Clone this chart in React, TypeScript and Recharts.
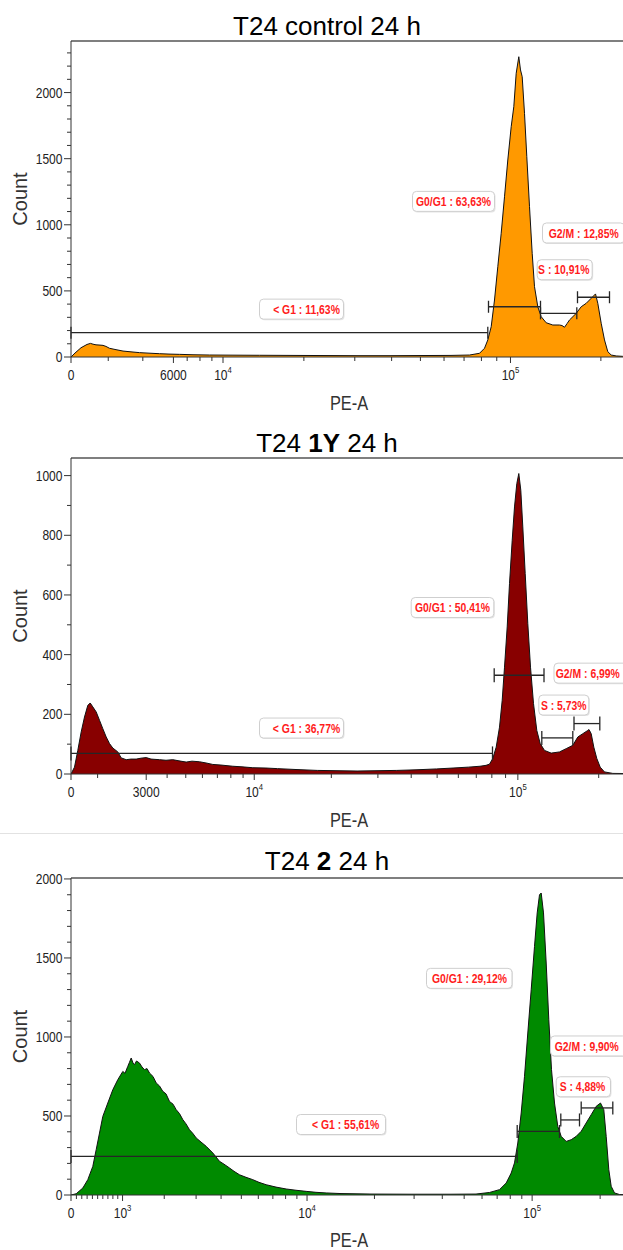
import React from 'react';
import { AreaChart, Area, XAxis, YAxis, ReferenceLine, ReferenceDot } from 'recharts';

// ---------------- data ----------------
// histogram outlines: [display channel, count]
const controlHist: [number, number][] = [
  [0, 0], [4, 30], [10, 70], [16, 95], [19.5, 103], [22, 97], [25, 92], [29, 90], [32, 88], [35, 80],
  [38.5, 66], [44, 57], [52, 45], [60, 39], [68.5, 33], [78, 29], [88.5, 25], [98, 22], [108.5, 20],
  [122, 17], [138.5, 15], [160, 14], [188.5, 13], [220, 12], [250, 11], [285, 10], [320, 10], [350, 11],
  [380, 12], [398.5, 15], [408.5, 28], [413.5, 66], [416.8, 129], [420.2, 229], [423.5, 431], [426.8, 683],
  [430.2, 936], [433.5, 1212], [436.8, 1490], [440.2, 1742], [442.8, 1893], [445.2, 2146], [447.8, 2271],
  [449.5, 2171], [451.2, 2120], [453.5, 1843], [455.8, 1515], [458.5, 1137], [461.2, 784], [463.5, 532],
  [466.8, 380], [470.2, 305], [475.2, 259], [481.8, 242], [488.5, 242], [491, 238], [493.5, 225], [496, 252],
  [498.5, 280], [505.2, 330], [510.2, 380], [515.2, 406], [520.2, 444], [524.5, 477], [526.8, 406],
  [530.2, 255], [533.5, 129], [536.8, 40], [540.2, 15], [545.2, 8], [551.5, 5], [569, 3],
];

const oneYHist: [number, number][] = [
  [0, 0], [3.5, 23], [6.8, 79], [10.2, 141], [13.5, 191], [16.8, 230], [19.2, 238], [21.8, 225], [25.2, 208],
  [28.5, 180], [31.8, 152], [35.2, 124], [38.5, 102], [41.8, 87], [46.8, 74], [50.2, 54], [55.2, 48], [60, 50],
  [65.2, 50], [70, 53], [75.2, 55], [80, 50], [88.5, 48], [95, 46], [101.8, 48], [108, 44], [115.2, 40],
  [121, 43], [128.5, 41], [135, 37], [141.8, 32], [150, 30], [161.8, 26], [171, 24], [181.8, 21], [195, 20],
  [206.5, 18], [225, 15], [246.3, 12], [266, 11], [286.1, 10], [306, 11], [325.8, 12], [345, 14], [365.5, 17],
  [382, 20], [397.3, 23], [409, 26], [415, 29], [418.5, 33], [421.8, 52], [425.2, 90], [428.5, 157],
  [431.2, 247], [433.5, 358], [436.2, 493], [438.5, 638], [441.2, 783], [443.5, 895], [445.8, 973],
  [447.8, 1007], [449.8, 951], [451.8, 828], [454.2, 672], [456.8, 504], [459.5, 358], [462.5, 236],
  [465.8, 146], [469.2, 102], [473.5, 79], [480.2, 70], [488.5, 74], [495.2, 85], [501.8, 96], [506.8, 124],
  [511.8, 135], [516.8, 146], [518, 149], [520.2, 135], [522.8, 90], [525.8, 52], [529.2, 23], [533.5, 7],
  [541.8, 2], [569, 1],
];

const twoHist: [number, number][] = [
  [0, 0], [5.2, 8], [11.8, 44], [16.8, 97], [21.8, 181], [25.2, 287], [28.5, 392], [31.8, 497], [36.8, 582],
  [41.8, 666], [46.8, 730], [51.8, 782], [54, 770], [56.8, 814], [58.5, 840], [60.2, 867], [62, 835],
  [63.5, 825], [65.5, 848], [68.5, 835], [71, 810], [73.5, 793], [76, 800], [78.5, 772], [82, 750],
  [85.2, 709], [88.5, 690], [91.8, 656], [95, 640], [98.5, 592], [102, 575], [105.2, 540], [108.5, 515],
  [111.8, 477], [115, 450], [118.5, 413], [121.8, 390], [125.2, 361], [130, 335], [135.2, 308], [141.8, 266],
  [148.5, 213], [153, 195], [158.5, 171], [163, 150], [168.5, 128], [175, 112], [181.8, 97], [188, 80],
  [195.2, 65], [205, 50], [215.2, 38], [225, 30], [235.2, 23], [245, 17], [255.2, 13], [270, 9], [300, 6],
  [340, 5], [380, 5], [405, 6], [418.5, 16], [428.5, 34], [435.2, 76], [440.2, 139], [443.5, 203],
  [446.8, 329], [450.2, 519], [453.5, 751], [456.8, 1025], [460.2, 1299], [463.5, 1573], [466.2, 1785],
  [468.5, 1900], [470.2, 1911], [472.5, 1785], [475.2, 1468], [477.8, 1109], [480.5, 793], [483.5, 582],
  [486.8, 434], [490.2, 371], [495.2, 339], [500.2, 350], [505.2, 371], [510.2, 403], [515.2, 456],
  [520.2, 508], [525.2, 561], [529.5, 582], [532.8, 540], [535.2, 371], [537.8, 160], [540.2, 55],
  [543.5, 13], [548.5, 3], [569, 1],
];

// x axis ticks (PE-A values) and labels
const controlXTicks = [0, 6000, 10000, 100000];
const controlXLabels = ['0', '6000', '10^4', '10^5'];
const controlXMinor = [2000, 4000, 7000, 8000, 9000, 20000, 30000, 40000, 50000, 60000, 70000, 80000, 90000, 200000];

const oneYXTicks = [0, 3000, 10000, 100000];
const oneYXLabels = ['0', '3000', '10^4', '10^5'];
const oneYXMinor = [1000, 4000, 5000, 6000, 7000, 8000, 9000, 20000, 30000, 40000, 50000, 60000, 70000, 80000, 90000, 200000];

const twoXTicks = [0, 1000, 10000, 100000];
const twoXLabels = ['0', '10^3', '10^4', '10^5'];
const twoXMinor = [100, 200, 300, 400, 500, 600, 700, 800, 900, 2000, 3000, 4000, 5000, 6000, 7000, 8000, 9000,
  20000, 30000, 40000, 50000, 60000, 70000, 80000, 90000, 200000];

// gates: [from channel, to channel, level count]
const controlGates: [number, number, number][] = [[0, 416.8, 184], [417.5, 469.5, 380], [469.5, 505.8, 330], [506.5, 538.5, 452]];
const oneYGates: [number, number, number][] = [[0, 421.5, 69], [423.2, 473, 331], [470.8, 501.8, 121], [503, 528.8, 169]];
const twoGates: [number, number, number][] = [[0, 446.2, 244], [446.2, 488.5, 402], [489.8, 508.5, 475], [510.2, 541.8, 551]];

const controlGateText = ['< G1 : 11,63%', 'G0/G1 : 63,63%', 'S : 10,91%', 'G2/M : 12,85%'];
const oneYGateText = ['< G1 : 36,77%', 'G0/G1 : 50,41%', 'S : 5,73%', 'G2/M : 6,99%'];
const twoGateText = ['< G1 : 55,61%', 'G0/G1 : 29,12%', 'S : 4,88%', 'G2/M : 9,90%'];

// ---------------- layout / style ----------------
const FONT = "'Liberation Sans', Arial, Helvetica, sans-serif";
const W = 640;
const YW = 71;
const PLOT_W = W - YW;

type LabelPos = { x: number; y: number; w: number; t: number };

const panels = [
  {
    title: [['T24 control 24 h', false]] as [string, boolean][],
    hist: controlHist, xTicks: controlXTicks, xLabels: controlXLabels, xMinor: controlXMinor,
    gates: controlGates, gateText: controlGateText,
    labelPos: [
      { x: 188.5, y: 362, w: 84, t: 47 }, { x: 341.5, y: 1177, w: 82, t: 41 },
      { x: 466.2, y: 660, w: 55, t: 26.6 }, { x: 471.5, y: 938, w: 82, t: 41.2 },
    ] as LabelPos[],
    top: 0, marginTop: 41, plotH: 316, chartH: 420, yMax: 2390, yMajor: 500,
    K: 130.6, C: 6920, fill: '#ff9900', gateH: 6, titleY: 35, peaY: 410,
  },
  {
    title: [['T24 ', false], ['1Y', true], [' 24 h', false]] as [string, boolean][],
    hist: oneYHist, xTicks: oneYXTicks, xLabels: oneYXLabels, xMinor: oneYXMinor,
    gates: oneYGates, gateText: oneYGateText,
    labelPos: [
      { x: 188.5, y: 154, w: 84, t: 47 }, { x: 340.2, y: 558, w: 82.6, t: 41.3 },
      { x: 467.8, y: 231, w: 50, t: 24.9 }, { x: 483, y: 338, w: 74, t: 33.8 },
    ] as LabelPos[],
    top: 420, marginTop: 38, plotH: 316, chartH: 414, yMax: 1059, yMajor: 200,
    K: 116.7, C: 4348, fill: '#880000', gateH: 7, titleY: 32, peaY: 407,
  },
  {
    title: [['T24 ', false], ['2', true], [' 24 h', false]] as [string, boolean][],
    hist: twoHist, xTicks: twoXTicks, xLabels: twoXLabels, xMinor: twoXMinor,
    gates: twoGates, gateText: twoGateText,
    labelPos: [
      { x: 225.5, y: 446, w: 89, t: 49.2 }, { x: 355.5, y: 1371, w: 85.5, t: 43 },
      { x: 485.2, y: 685, w: 54.3, t: 26.3 }, { x: 479.5, y: 943, w: 76, t: 36.3 },
    ] as LabelPos[],
    top: 834, marginTop: 44, plotH: 317, chartH: 416, yMax: 2006, yMajor: 500,
    K: 98.1, C: 1818, fill: '#008a00', gateH: 6.5, titleY: 36, peaY: 413,
  },
];

type Panel = typeof panels[number];

function TickText({ x, y, label, anchor }: { x: number; y: number; label: string; anchor: 'middle' | 'end' }) {
  const [base, exp] = label.split('^');
  return (
    <text transform={`translate(${x},${y}) scale(0.86,1)`} textAnchor={anchor} fontFamily={FONT} fontSize={14} fill="#222">
      <tspan>{base}</tspan>
      {exp && <tspan fontSize={9} dy={-7}>{exp}</tspan>}
    </text>
  );
}

function Histogram({ cfg }: { cfg: Panel }) {
  const toCh = (v: number) => cfg.K * Math.asinh(v / cfg.C);
  const majorCh = cfg.xTicks.map(toCh);
  const minorCh = cfg.xMinor.map(toCh).filter((c) => c < PLOT_W);
  const allTicks = [...majorCh, ...minorCh].sort((a, b) => a - b);
  const data = cfg.hist.map(([ch, count]) => ({ ch, count }));
  const yTicks: number[] = [];
  for (let v = 0; v <= cfg.yMax; v += 100) yTicks.push(v);
  const xAxisH = cfg.chartH - cfg.marginTop - cfg.plotH;

  const XTick = (p: any) => {
    const { x, y, payload } = p;
    const i = majorCh.findIndex((m) => Math.abs(m - payload.value) < 1e-6);
    const major = i >= 0;
    return (
      <g>
        <line x1={x} x2={x} y1={y} y2={y + (major ? 6 : 4)} stroke="#333" strokeWidth={1} />
        {major && <TickText x={x} y={y + 23} label={cfg.xLabels[i]} anchor="middle" />}
      </g>
    );
  };
  const YTick = (p: any) => {
    const { x, y, payload } = p;
    const major = payload.value % cfg.yMajor === 0;
    return (
      <g>
        <line x1={x} x2={x - (major ? 7 : 4)} y1={y} y2={y} stroke="#333" strokeWidth={1} />
        {major && <TickText x={x - 8.5} y={y + 5} label={String(payload.value)} anchor="end" />}
      </g>
    );
  };
  const gateShape = (p: any) => {
    const { x1, y1, x2, y2 } = p;
    const h = cfg.gateH;
    return (
      <g stroke="#262626" strokeWidth={1.3}>
        <line x1={x1} y1={y1} x2={x2} y2={y2} />
        <line x1={x1} y1={y1 - h} x2={x1} y2={y1 + h} />
        <line x1={x2} y1={y2 - h} x2={x2} y2={y2 + h} />
      </g>
    );
  };

  return (
    <AreaChart width={W} height={cfg.chartH} data={data} margin={{ top: cfg.marginTop, right: 0, bottom: 0, left: 0 }}>
      <XAxis dataKey="ch" type="number" domain={[0, PLOT_W]} allowDataOverflow ticks={allTicks} interval={0}
        tick={XTick} tickSize={0} tickMargin={0} tickLine={false} axisLine={{ stroke: '#333' }} height={xAxisH} />
      <YAxis type="number" domain={[0, cfg.yMax]} allowDataOverflow ticks={yTicks} interval={0}
        tick={YTick} tickSize={0} tickMargin={0} tickLine={false} axisLine={{ stroke: '#333' }} width={YW} />
      <Area type="linear" dataKey="count" stroke="#111" strokeWidth={1} fill={cfg.fill} fillOpacity={1}
        isAnimationActive={false} dot={false} activeDot={false} />
      <ReferenceLine y={cfg.yMax} stroke="#555" strokeWidth={1.5} />
      {cfg.gates.map(([a, b, lvl], i) => (
        <ReferenceLine key={'g' + i} segment={[{ x: a, y: lvl }, { x: b, y: lvl }]} shape={gateShape} />
      ))}
      {cfg.labelPos.map((lp, i) => (
        <ReferenceDot key={'l' + i} x={lp.x} y={lp.y} r={0}
          shape={(p: any) => (
            <g>
              <rect x={p.cx + 1} y={p.cy - 9} width={lp.w} height={20} rx={4} fill="#e4e4e4" />
              <rect x={p.cx} y={p.cy - 10} width={lp.w} height={20} rx={4} fill="#fff" stroke="#cfcfcf" strokeWidth={1} />
              <text transform={`translate(${p.cx + lp.t},${p.cy + 4.6}) scale(0.8,1)`} textAnchor="middle"
                fontFamily={FONT} fontSize={13} fontWeight="bold" fill="#ff1c1c">{cfg.gateText[i]}</text>
            </g>
          )} />
      ))}
      <text x={327} y={cfg.titleY} textAnchor="middle" fontFamily={FONT} fontSize={26} fill="#000" style={{ whiteSpace: 'pre' }}>
        {cfg.title.map(([s, b], i) => (
          <tspan key={i} fontWeight={b ? 'bold' : 'normal'}>{s}</tspan>
        ))}
      </text>
      <text transform={`translate(27,${cfg.marginTop + cfg.plotH / 2}) rotate(-90)`} textAnchor="middle"
        fontFamily={FONT} fontSize={20} fill="#333">Count</text>
      <text transform={`translate(349,${cfg.peaY}) scale(0.78,1)`} textAnchor="middle"
        fontFamily={FONT} fontSize={21} fill="#333">PE-A</text>
    </AreaChart>
  );
}

export default function App() {
  return (
    <div style={{ position: 'absolute', left: 0, top: 0, width: 623, height: 1250, overflow: 'hidden', background: '#fff' }}>
      {panels.map((p, i) => (
        <div key={i} style={{ position: 'absolute', left: 0, top: p.top }}>
          <Histogram cfg={p} />
        </div>
      ))}
      <div style={{ position: 'absolute', left: 0, top: 833, width: 623, height: 1, background: '#e2e2e2' }} />
    </div>
  );
}
